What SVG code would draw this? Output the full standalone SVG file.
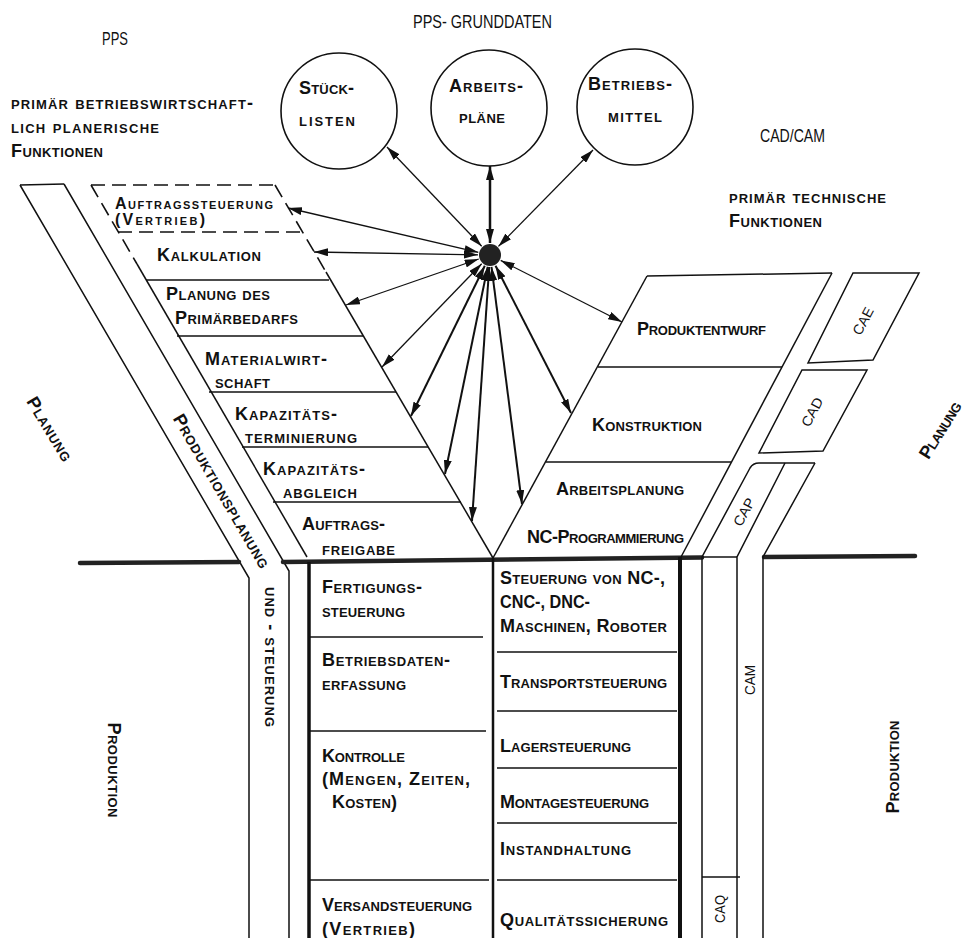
<svg xmlns="http://www.w3.org/2000/svg" width="966" height="938" viewBox="0 0 966 938">
<style>
.t{font-family:"Liberation Sans",Arial,sans-serif;font-size:18px;font-weight:bold;font-variant:small-caps;fill:#111}
.ts{font-size:16px}
.ti{font-family:"Liberation Sans",Arial,sans-serif;font-size:19px;font-weight:normal;fill:#111}
.tc{font-family:"Liberation Sans",Arial,sans-serif;font-size:14px;font-weight:normal;fill:#111}
.ln{fill:none;stroke:#111;stroke-width:1.5}
.dash{fill:none;stroke:#111;stroke-width:1.6;stroke-dasharray:14 7}
.thick{fill:none;stroke:#222;stroke-width:4.5;stroke-linecap:round}
.con{fill:none;stroke:#111;stroke-width:1.3;marker-start:url(#ah);marker-end:url(#ah)}
.con2{fill:none;stroke:#111;stroke-width:2;marker-start:url(#ah);marker-end:url(#ah)}
.circ{fill:none;stroke:#111;stroke-width:1.6}
</style>
<defs>
<marker id="ah" viewBox="0 0 14 8" refX="14" refY="4" markerWidth="14" markerHeight="8" markerUnits="userSpaceOnUse" orient="auto-start-reverse">
<path d="M0,0 L14,4 L0,8 Z" fill="#111"/>
</marker>
</defs>
<rect x="0" y="0" width="966" height="938" fill="#fff"/>

<!-- titles -->
<g id="titles">
<text class="ti" x="102" y="45" textLength="26" lengthAdjust="spacingAndGlyphs">PPS</text>
<text class="ti" x="413" y="28" textLength="139" lengthAdjust="spacingAndGlyphs">PPS- GRUNDDATEN</text>
<text class="ti" x="760" y="142" textLength="65" lengthAdjust="spacingAndGlyphs">CAD/CAM</text>
<text class="t" x="11" y="109" textLength="242">primär betriebswirtschaft-</text>
<text class="t" x="11" y="133" textLength="148">lich planerische</text>
<text class="t" x="11" y="157" textLength="92">Funktionen</text>
<text class="t" x="729" y="203" textLength="157">primär technische</text>
<text class="t" x="729" y="227" textLength="93">Funktionen</text>
</g>

<!-- data circles -->
<g id="stuecklisten">
<circle class="circ" cx="339" cy="111" r="58"/>
<text class="t" x="299" y="94" textLength="55">Stück-</text>
<text class="t" x="299" y="126" textLength="56">listen</text>
</g>
<g id="arbeitsplaene">
<circle class="circ" cx="489" cy="108" r="58"/>
<text class="t" x="449" y="92" textLength="74">Arbeits-</text>
<text class="t" x="459" y="123" textLength="46">pläne</text>
</g>
<g id="betriebsmittel">
<circle class="circ" cx="635" cy="107" r="58"/>
<text class="t" x="588" y="90" textLength="84">Betriebs-</text>
<text class="t" x="608" y="122" textLength="54">mittel</text>
</g>
<g id="hub">
<circle cx="490" cy="255" r="11" fill="#222"/>
</g>

<!-- PPS band (Produktionsplanung und -steuerung) -->
<g id="pps-band">
<path class="ln" d="M20,185 L64,184"/>
<path class="ln" d="M20,185 L249,578 L249,938"/>
<path class="ln" d="M64,184 L289,571 L289,938"/>
<text class="t" transform="translate(220,492) rotate(59.8)" x="0" y="4" text-anchor="middle" textLength="175">Produktionsplanung</text>
<text class="t" transform="translate(269,657) rotate(90)" x="0" y="4" text-anchor="middle" textLength="140">und - steuerung</text>
</g>

<!-- horizontal divider -->
<g id="divider">
<path class="thick" d="M80,563 L239,562"/>
<path class="thick" d="M283,562 L702,557.5"/>
<path class="thick" d="M764,557 L915,556"/>
</g>

<!-- PPS funnel -->
<g id="pps-funnel">
<path class="dash" d="M91,185 L275,185"/>
<path class="dash" d="M91,185 L137,264"/>
<path class="dash" d="M275,185 L326,272"/>
<path class="dash" d="M118,232 L302,232"/>
<path class="ln" d="M137,264 L307,557"/>
<path class="ln" d="M326,272 L493,558"/>
<path class="ln" d="M146,280 L329,280"/>
<path class="ln" d="M177,336 L363,336"/>
<path class="ln" d="M209,392 L396,392"/>
<path class="ln" d="M242,447 L428,447"/>
<path class="ln" d="M273,502 L461,502"/>
</g>
<g id="auftragssteuerung"><text class="t ts" x="115" y="209" textLength="158">Auftragssteuerung</text><text class="t ts" x="115" y="225" textLength="90">(Vertrieb)</text></g>
<g id="kalkulation"><text class="t" x="157" y="261" textLength="104">Kalkulation</text></g>
<g id="primaerbedarf"><text class="t" x="166" y="300" textLength="104">Planung des</text><text class="t" x="175" y="324" textLength="123">Primärbedarfs</text></g>
<g id="materialwirtschaft"><text class="t" x="205" y="365" textLength="122">Materialwirt-</text><text class="t" x="215" y="388" textLength="55">schaft</text></g>
<g id="kapterminierung"><text class="t" x="235" y="420" textLength="102">Kapazitäts-</text><text class="t" x="245" y="443" textLength="112">terminierung</text></g>
<g id="kapabgleich"><text class="t" x="263" y="475" textLength="102">Kapazitäts-</text><text class="t" x="283" y="498" textLength="74">abgleich</text></g>
<g id="auftragsfreigabe"><text class="t" x="302" y="530" textLength="83">Auftrags-</text><text class="t" x="322" y="555" textLength="73">freigabe</text></g>

<!-- CAD/CAM funnel -->
<g id="cad-funnel">
<path class="ln" d="M647,276 L832,273"/>
<path class="ln" d="M647,276 L493,558"/>
<path class="ln" d="M832,273 L681,557"/>
<path class="ln" d="M598,367 L782,367"/>
<path class="ln" d="M546,462 L731,462"/>
</g>
<g id="produktentwurf"><text class="t" x="637" y="335" textLength="129">Produktentwurf</text></g>
<g id="konstruktion"><text class="t" x="592" y="431" textLength="110">Konstruktion</text></g>
<g id="arbeitsplanung"><text class="t" x="556" y="495" textLength="128">Arbeitsplanung</text><text class="t" x="527" y="543" textLength="157">NC-Programmierung</text></g>

<!-- CAE / CAD / CAP / CAM / CAQ -->
<g id="cae">
<path class="ln" d="M853,273 L919,273 L873,360 L808,363 Z"/>
<text class="tc" transform="translate(863,321) rotate(-62)" x="0" y="5" text-anchor="middle" textLength="29" lengthAdjust="spacingAndGlyphs">CAE</text>
</g>
<g id="cad">
<path class="ln" d="M802,370 L867,370 L823,451 L759,453 Z"/>
<text class="tc" transform="translate(812,412) rotate(-62)" x="0" y="5" text-anchor="middle" textLength="31" lengthAdjust="spacingAndGlyphs">CAD</text>
</g>
<g id="cap">
<path class="ln" d="M702,938 L702,557 L750,468 Q753,463 759,463 L785,463"/>
<path class="ln" d="M702,557 L737,557"/>
<text class="tc" transform="translate(744,512) rotate(-62)" x="0" y="5" text-anchor="middle" textLength="30" lengthAdjust="spacingAndGlyphs">CAP</text>
</g>
<g id="cam">
<path class="ln" d="M785,463 L815,463"/>
<path class="ln" d="M785,463 L737,557 L737,938"/>
<path class="ln" d="M815,463 L763,557 L763,938"/>
<text class="tc" transform="translate(750,680) rotate(-90)" x="0" y="5" text-anchor="middle" textLength="30" lengthAdjust="spacingAndGlyphs">CAM</text>
</g>
<g id="caq">
<path class="ln" d="M702,877 L740,877"/>
<text class="tc" transform="translate(720,909) rotate(-90)" x="0" y="5" text-anchor="middle" textLength="28" lengthAdjust="spacingAndGlyphs">CAQ</text>
</g>

<!-- production columns -->
<g id="columns">
<path d="M309,562 L309,938" stroke="#111" stroke-width="3.5" fill="none"/>
<path d="M493,558 L493,938" stroke="#111" stroke-width="2.5" fill="none"/>
<path d="M680,557 L680,938" stroke="#111" stroke-width="4" fill="none"/>
<path class="ln" d="M310,637 L483,637"/>
<path class="ln" d="M310,731 L486,731"/>
<path class="ln" d="M310,880 L489,880"/>
<path class="ln" d="M497,652 L677,652"/>
<path class="ln" d="M497,711 L677,711"/>
<path class="ln" d="M497,768 L677,768"/>
<path class="ln" d="M497,823 L677,823"/>
<path class="ln" d="M497,880 L677,880"/>
</g>
<g id="fertigungssteuerung"><text class="t" x="322" y="593" textLength="100">Fertigungs-</text><text class="t" x="322" y="617" textLength="83">steuerung</text></g>
<g id="bde"><text class="t" x="322" y="666" textLength="128">Betriebsdaten-</text><text class="t" x="322" y="690" textLength="84">erfassung</text></g>
<g id="kontrolle"><text class="t" x="322" y="762" textLength="83">Kontrolle</text><text class="t" x="322" y="785" textLength="148">(Mengen, Zeiten,</text><text class="t" x="332" y="808" textLength="65">Kosten)</text></g>
<g id="versandsteuerung"><text class="t" x="322" y="911" textLength="150">Versandsteuerung</text><text class="t" x="322" y="935" textLength="93">(Vertrieb)</text></g>
<g id="nc-steuerung"><text class="t" x="500" y="584" textLength="165">Steuerung von NC-,</text><text class="t" x="500" y="608" textLength="90" lengthAdjust="spacingAndGlyphs">CNC-, DNC-</text><text class="t" x="500" y="632" textLength="167">Maschinen, Roboter</text></g>
<g id="transportsteuerung"><text class="t" x="500" y="688" textLength="167">Transportsteuerung</text></g>
<g id="lagersteuerung"><text class="t" x="500" y="752" textLength="131">Lagersteuerung</text></g>
<g id="montagesteuerung"><text class="t" x="500" y="808" textLength="149">Montagesteuerung</text></g>
<g id="instandhaltung"><text class="t" x="500" y="855" textLength="131">Instandhaltung</text></g>
<g id="qualitaetssicherung"><text class="t" x="500" y="926" textLength="168">Qualitätssicherung</text></g>

<!-- side labels -->
<g id="side-labels">
<text class="t" transform="translate(48,430) rotate(59)" x="0" y="4" text-anchor="middle" textLength="72">Planung</text>
<text class="t" transform="translate(942,431) rotate(-58)" x="0" y="4" text-anchor="middle" textLength="64">Planung</text>
<text class="t" transform="translate(112,770) rotate(90)" x="0" y="4" text-anchor="middle" textLength="95">Produktion</text>
<text class="t" transform="translate(895,767) rotate(-90)" x="0" y="4" text-anchor="middle" textLength="93">Produktion</text>
</g>

<!-- connectors -->
<g id="connectors">
<line class="con" x1="481.7" y1="246.3" x2="387" y2="147"/>
<line class="con" x1="490" y1="243" x2="490" y2="166" style="stroke-width:2.5"/>
<line class="con" x1="498.4" y1="246.4" x2="593" y2="150"/>
<line class="con" x1="478.3" y1="252.3" x2="288" y2="208"/>
<line class="con" x1="478" y1="254.8" x2="314" y2="252"/>
<line class="con" x1="478.7" y1="259" x2="346" y2="305"/>
<line class="con" x1="481.7" y1="263.7" x2="382" y2="367"/>
<line class="con2" x1="484.8" y1="265.8" x2="411" y2="416"/>
<line class="con2" x1="487.7" y1="266.8" x2="445" y2="474"/>
<line class="con2" x1="489.2" y1="267" x2="472" y2="521"/>
<line class="con" x1="500.7" y1="260.4" x2="622" y2="322"/>
<line class="con2" x1="495.5" y1="265.7" x2="571" y2="413"/>
<line class="con2" x1="491.5" y1="266.9" x2="522" y2="504"/>
</g>
</svg>
